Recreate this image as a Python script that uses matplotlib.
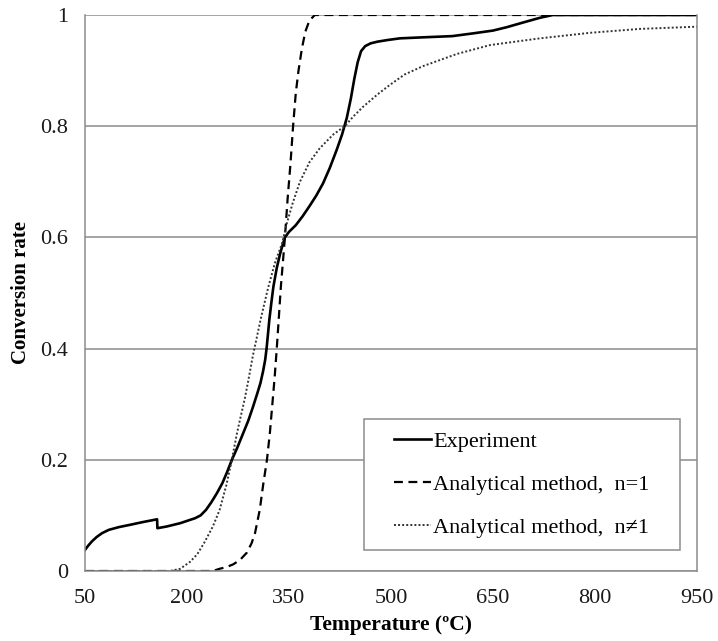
import numpy as np
import matplotlib
matplotlib.use("Agg")
import matplotlib.pyplot as plt
from matplotlib.legend_handler import HandlerLine2D

# ---------------- data ----------------
temp_exp = [50, 55, 60, 67, 75, 85, 100, 116, 135, 156, 156.5, 170, 190, 212, 220,
            228, 236, 244, 252, 259, 266, 274, 282, 290, 297, 303, 308, 312, 315,
            317, 319, 321, 324, 327, 332, 337, 341, 344, 350, 360, 370, 380, 390,
            400, 410, 420, 428, 435, 441, 446, 451, 456, 462, 470, 480, 495, 513,
            550, 590, 621, 650, 670, 690, 719, 738, 950]
conv_exp = [0.038, 0.046, 0.053, 0.061, 0.068, 0.074, 0.079, 0.083, 0.088, 0.093,
            0.077, 0.080, 0.086, 0.095, 0.100, 0.110, 0.124, 0.140, 0.158, 0.178,
            0.200, 0.222, 0.246, 0.270, 0.295, 0.318, 0.338, 0.360, 0.380, 0.400,
            0.425, 0.451, 0.482, 0.511, 0.545, 0.571, 0.588, 0.600, 0.610, 0.622,
            0.638, 0.656, 0.675, 0.697, 0.725, 0.757, 0.785, 0.815, 0.850, 0.885,
            0.915, 0.935, 0.944, 0.949, 0.952, 0.955, 0.958, 0.960, 0.962, 0.967,
            0.972, 0.978, 0.985, 0.995, 1.0, 1.0]

temp_n1 = [50, 238, 248, 258, 268, 278, 288, 295, 300, 307, 312, 317.6, 322, 326,
           329, 332, 335, 338, 341, 344, 348, 352, 356, 360, 364, 369, 374, 380,
           388, 950]
conv_n1 = [0.0, 0.0, 0.004, 0.007, 0.012, 0.020, 0.033, 0.050, 0.068, 0.110, 0.155,
           0.200, 0.250, 0.307, 0.350, 0.400, 0.455, 0.511, 0.555, 0.600, 0.670,
           0.730, 0.800, 0.860, 0.900, 0.940, 0.970, 0.990, 1.0, 1.0]

temp_nn1 = [50, 175, 190, 204, 215, 225, 238, 248, 258, 266, 273, 279, 285, 291,
            297, 303, 308, 319, 329, 340, 347, 355, 366, 380, 395, 415, 432, 445,
            459, 480, 498, 520, 547, 597, 646, 719, 793, 866, 950]
conv_nn1 = [0.0, 0.0, 0.004, 0.016, 0.030, 0.050, 0.080, 0.110, 0.155, 0.200,
            0.245, 0.278, 0.310, 0.348, 0.388, 0.422, 0.451, 0.508, 0.553, 0.590,
            0.626, 0.660, 0.700, 0.735, 0.760, 0.785, 0.800, 0.818, 0.835, 0.857,
            0.874, 0.893, 0.908, 0.930, 0.946, 0.958, 0.968, 0.975, 0.979]

x_ticks = [50, 200, 350, 500, 650, 800, 950]
y_ticks = [0, 0.2, 0.4, 0.6, 0.8, 1.0]
y_tick_labels = ["0", "0.2", "0.4", "0.6", "0.8", "1"]
labels = ["Experiment", "Analytical method,  n=1", "Analytical method,  n\u22601"]

# ---------------- style ----------------
serif = ["Liberation Serif", "DejaVu Serif"]
plt.rcParams["font.family"] = serif

fig = plt.figure(figsize=(7.18, 6.41), dpi=100)
ax = fig.add_axes([85 / 718, 1 - 571 / 641, 612 / 718, 556 / 641])

grid_c = "#8c8c8c"
ax.set_xlim(50, 950)
ax.set_ylim(0, 1)
ax.set_yticks(y_ticks)
ax.set_yticklabels(y_tick_labels)
ax.set_xticks(x_ticks)
ax.tick_params(axis="both", length=0, labelsize=16, colors="#1a1a1a")
ax.tick_params(axis="x", pad=13)
ax.tick_params(axis="y", pad=12)
ax.yaxis.grid(True, color=grid_c, lw=1.1)
ax.set_axisbelow(True)
for s in ["left", "right", "bottom"]:
    ax.spines[s].set_color(grid_c)
    ax.spines[s].set_linewidth(1.1)
ax.spines["top"].set_visible(False)

l1, = ax.plot(temp_exp, conv_exp, color="black", lw=1.9, label=labels[0],
              solid_joinstyle="round")
l2, = ax.plot(temp_n1, conv_n1, color="black", lw=1.6,
              linestyle=(0, (4, 2.5)), label=labels[1])
l3, = ax.plot(temp_nn1, conv_nn1, color="#333333", lw=1.4,
              linestyle=(0, (1, 1.1)), label=labels[2])

ax.set_xlabel("Temperature (\u00baC)", fontsize=15.5, fontweight="bold", labelpad=5)
ax.set_ylabel("Conversion rate", fontsize=15, fontweight="bold", labelpad=7)


class ShiftedHandler(HandlerLine2D):
    """Draw the handle line only in the right part of the handle box."""
    def create_artists(self, legend, orig_handle, xdescent, ydescent, width,
                       height, fontsize, trans):
        arts = super().create_artists(legend, orig_handle, xdescent, ydescent,
                                      width, height, fontsize, trans)
        for a in arts:
            xd = np.asarray(a.get_xdata(), dtype=float)
            if len(xd) >= 2:
                x0, x1 = xd.min(), xd.max()
                start = x1 - (x1 - x0) * 0.68
                a.set_xdata(np.linspace(start, x1, len(xd)))
        return arts


hm = {l1: ShiftedHandler(), l2: ShiftedHandler(), l3: ShiftedHandler()}
leg = ax.legend(handles=[l1, l2, l3], handler_map=hm,
                loc="lower left",
                bbox_to_anchor=(0.456, 0.038, 0.516, 0.235),
                mode="expand", fontsize=16, frameon=True, fancybox=False,
                edgecolor=grid_c, framealpha=1, borderpad=0.55,
                labelspacing=1.0, handlelength=2.45, handletextpad=0.1,
                borderaxespad=0)
leg.get_frame().set_linewidth(1.1)

fig.savefig("out.png", dpi=100)
